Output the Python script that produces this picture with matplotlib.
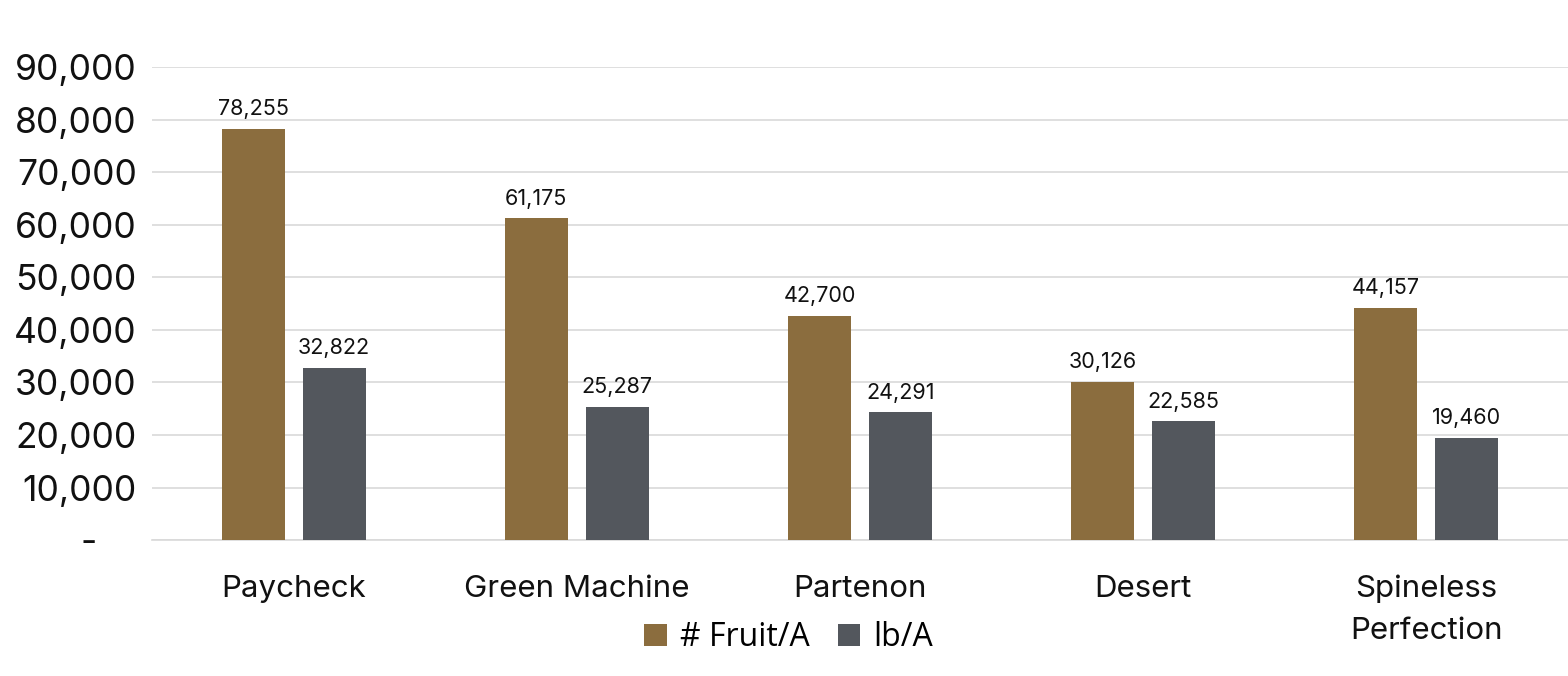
import matplotlib.pyplot as plt
import numpy as np

varieties = ["Paycheck", "Green Machine", "Partenon", "Desert", "Spineless\nPerfection"]
fruit_per_acre = [78255, 61175, 42700, 30126, 44157]
lb_per_acre = [32822, 25287, 24291, 22585, 19460]
series_names = ["# Fruit/A", "lb/A"]
y_ticks = [0, 10000, 20000, 30000, 40000, 50000, 60000, 70000, 80000, 90000]

bronze = "#8b6d3e"
slate = "#53575d"
grid_color = "#d9d9d9"

plt.rcParams["font.family"] = ["Inter", "DejaVu Sans"]

fig = plt.figure(figsize=(15.68, 6.76), dpi=100)
ax = fig.add_axes([0.097, 0.201, 0.903, 0.700])

x = np.arange(len(varieties))
width = 0.223
offset = 0.143

bars_fruit = ax.bar(x - offset, fruit_per_acre, width, color=bronze, label=series_names[0], zorder=3)
bars_lb = ax.bar(x + offset, lb_per_acre, width, color=slate, label=series_names[1], zorder=3)

for bars in (bars_fruit, bars_lb):
	for bar in bars:
		value = bar.get_height()
		ax.annotate(
			f"{value:,.0f}",
			(bar.get_x() + bar.get_width() / 2, value),
			xytext=(0, 7),
			textcoords="offset points",
			ha="center",
			va="bottom",
			fontsize=15.5,
			color="#111111"
		)

ax.set_xlim(-0.5, len(varieties) - 0.5)
ax.set_ylim(0, 90000)
ax.set_yticks(y_ticks)
# accounting style: zero shown as a dash, set in from the right edge
ax.set_yticklabels(["-    " if t == 0 else f"{t:,}" for t in y_ticks], fontsize=25.5, color="#111111")
ax.set_xticks(x)
ax.set_xticklabels(varieties, fontsize=22.5, color="#111111", linespacing=1.6, va="top")

ax.grid(True, axis="y", color=grid_color, linewidth=1.2, zorder=0)
for side in ("top", "right", "left"):
	ax.spines[side].set_visible(False)
ax.spines["bottom"].set_color(grid_color)
ax.spines["bottom"].set_linewidth(1.2)
ax.tick_params(axis="both", length=0)
ax.tick_params(axis="x", pad=25)
ax.tick_params(axis="y", pad=11)

fig.legend(
	handles=[bars_fruit, bars_lb],
	labels=series_names,
	loc="center",
	bbox_to_anchor=(0.503, 0.057),
	ncol=2,
	frameon=False,
	prop={"family": ["Open Sans", "DejaVu Sans"], "size": 23},
	handlelength=0.7,
	handleheight=0.7,
	handletextpad=0.4,
	columnspacing=0.9
)

fig.savefig("out.png", dpi=100)
